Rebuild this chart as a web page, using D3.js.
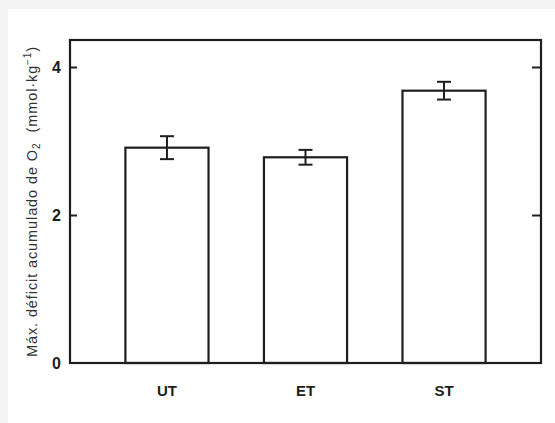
<!DOCTYPE html>
<html>
<head>
<meta charset="utf-8">
<script src="https://cdn.jsdelivr.net/npm/d3@7"></script>
<style>
  html, body { margin: 0; padding: 0; background: #f3f3f3; }
  svg { display: block; }
</style>
</head>
<body>
<svg id="chart" width="555" height="423"></svg>
<script>
// Maximal accumulated O2 deficit per training group
const groups = ["UT", "ET", "ST"];
const means = [2.91, 2.78, 3.68];
const errors = [0.155, 0.10, 0.12];
const yTicks = [0, 2, 4];

const W = 555, H = 423;
const frame = { left: 70, right: 541, top: 40, bottom: 363 };
const ink = "#1e1e1e";

const svg = d3.select("#chart");

// white sheet with a thin grey margin on top and left
svg.append("rect").attr("x", 8).attr("y", 9).attr("width", W - 8).attr("height", H - 9).attr("fill", "#fff");

const x = d3.scaleBand()
  .domain(groups)
  .range([frame.left, frame.right])
  .paddingInner(0.4)
  .paddingOuter(0.4);

const y = d3.scaleLinear()
  .domain([0, 4.365])
  .range([frame.bottom, frame.top]);

// bars
svg.append("g").selectAll("rect")
  .data(groups)
  .join("rect")
  .attr("x", d => x(d))
  .attr("y", (d, i) => y(means[i]))
  .attr("width", x.bandwidth())
  .attr("height", (d, i) => y(0) - y(means[i]))
  .attr("fill", "#fff")
  .attr("stroke", ink)
  .attr("stroke-width", 2.2);

// error bars
const eb = svg.append("g").attr("stroke", ink).attr("stroke-width", 2);
groups.forEach((g, i) => {
  const cx = x(g) + x.bandwidth() / 2;
  const top = y(means[i] + errors[i]);
  const bot = y(means[i] - errors[i]);
  eb.append("line").attr("x1", cx).attr("x2", cx).attr("y1", top).attr("y2", bot);
  eb.append("line").attr("x1", cx - 7).attr("x2", cx + 7).attr("y1", top).attr("y2", top);
  eb.append("line").attr("x1", cx - 7).attr("x2", cx + 7).attr("y1", bot).attr("y2", bot);
});

// frame
svg.append("rect")
  .attr("x", frame.left).attr("y", frame.top)
  .attr("width", frame.right - frame.left)
  .attr("height", frame.bottom - frame.top)
  .attr("fill", "none").attr("stroke", ink).attr("stroke-width", 2.2);

// y axis (ticks inward on both sides)
const yAxisL = d3.axisLeft(y).tickValues(yTicks).tickSize(-7).tickPadding(9).tickFormat(d3.format("d"));
const gL = svg.append("g").attr("transform", `translate(${frame.left},0)`).call(yAxisL);
gL.select(".domain").remove();
gL.selectAll(".tick line").attr("stroke", ink).attr("stroke-width", 2);
gL.selectAll(".tick text")
  .attr("fill", ink)
  .style("font", "bold 16px 'Liberation Sans', Arial, sans-serif");
gL.selectAll(".tick").filter(d => d === 0).select("line").remove();

const yAxisR = d3.axisRight(y).tickValues(yTicks.filter(d => d > 0)).tickSize(-9).tickFormat("");
const gR = svg.append("g").attr("transform", `translate(${frame.right},0)`).call(yAxisR);
gR.select(".domain").remove();
gR.selectAll(".tick line").attr("stroke", ink).attr("stroke-width", 2);

// x axis labels
const xAxis = d3.axisBottom(x).tickSize(0).tickPadding(22);
const gX = svg.append("g").attr("transform", `translate(0,${frame.bottom})`).call(xAxis);
gX.select(".domain").remove();
gX.selectAll(".tick text")
  .attr("fill", ink)
  .style("font", "bold 15px 'Liberation Sans', Arial, sans-serif");

// y axis title
const title = svg.append("text")
  .attr("transform", `translate(37,${(frame.top + frame.bottom) / 2}) rotate(-90)`)
  .attr("text-anchor", "middle")
  .attr("fill", "#333")
  .style("font", "14.5px 'Liberation Sans', Arial, sans-serif")
  .style("letter-spacing", "0.9px");
title.append("tspan").text("Máx. déficit acumulado de O");
title.append("tspan").attr("dy", 3).style("font-size", "10px").text("2");
title.append("tspan").attr("dy", -3).attr("dx", 10).text("(mmol·kg");
title.append("tspan").attr("dy", -6).style("font-size", "10px").text("−1");
title.append("tspan").attr("dy", 6).text(")");
</script>
</body>
</html>
